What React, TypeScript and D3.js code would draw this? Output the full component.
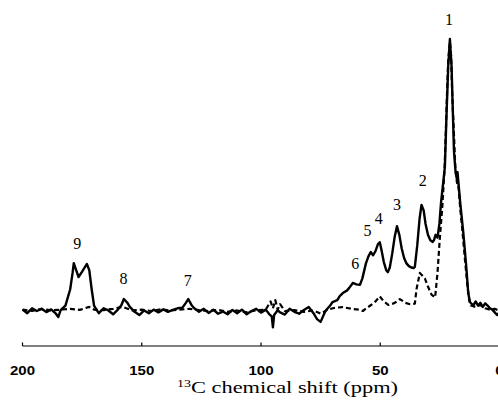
import React from "react";
import * as d3 from "d3";

// solid trace (ppm, intensity; baseline = 0, peak 1 = 100)
const solidPpm = [
  200, 198, 196, 194, 192, 190, 188, 186, 185, 184, 182, 180, 179, 178.5, 177.5, 176.5, 175, 173, 172, 171, 170, 169,
  168, 166, 164, 162, 160, 158.5, 157.5, 156, 155, 153, 151, 149, 147, 145, 143, 141, 139, 137, 135, 133, 131.5, 130.5,
  129, 128, 126, 124, 122, 120, 118, 116, 114, 112, 110, 108, 106, 104, 102, 100, 98, 96.5, 95.5, 95, 94.5, 93, 92, 90,
  88, 86, 84, 82, 80, 78, 76.5, 75, 73, 71, 70, 68, 67, 65.7, 64, 63, 61.5, 60, 58.5, 57.5, 56, 55, 54, 53, 52, 51, 50.2,
  49.5, 48.5, 47.5, 46.8, 46, 45, 44, 43, 42, 41, 40, 39, 38, 37, 36, 35.5, 34.5, 33.5, 32.7, 31.8, 31, 30, 29, 28, 27.5,
  26.8, 26, 25.2, 24.5, 23.5, 22.9, 22.3, 21.5, 20.8, 20.1, 19.1, 18.5, 18, 17.6, 17.2, 16.5, 15.2, 14, 13.1, 12.4, 11,
  10, 9, 8, 7, 6, 5, 4, 3, 2, 1, 0,
];
const solidInt = [
  0.5, -0.8, 1, 0, 0.8, -0.4, 0.6, -1, -2.2, 0.3, 2, 8, 14, 17.6, 15, 12.5, 14.5, 17.3, 15, 8, 2, 0.5,
  -0.8, 1, 0.2, -1.2, 0.5, 2.2, 4.4, 3, 1.5, -0.3, -1.5, 0.2, -0.8, 0.5, -0.5, 0.6, -0.3, 0.4, 1, 1.2, 3, 4.4,
  2, 1, -0.3, 0.8, -0.7, 0.5, -1, -0.2, -1.2, 0.4, -0.8, 0.5, -1.2, 0, 0.8, -0.6, 0.5, -1.2, -2, -6, -1.5, 0.3, -0.5, -1.3,
  0.8, -0.3, -1, 0.4, 1.5, -0.8, -3, -4, 0, 2, 3.3, 4, 5.5, 6.6, 7.5, 8.5, 10.3, 9.8, 9.6, 12, 17.5, 20, 21.7, 20.5, 22, 24.5, 25.3,
  22.5, 18, 15, 14.3, 16, 21, 27, 31.2, 28, 23, 19.5, 17.5, 16.5, 16, 15.8, 16.2, 24, 34, 39, 37, 32, 28, 26, 25.4, 26,
  28, 27, 32, 40, 48, 53, 70, 90, 100, 90, 59, 52, 49, 51, 47, 40, 29, 17, 6.6, 3.3, 2,
  3.5, 2, 3, 1.5, 2.8, 2, 1, 0.5, -0.5, -1.5, -0.5,
];

// dashed trace
const dashedPpm = [
  200, 196, 192, 188, 184, 180, 176, 172, 170, 166, 162, 158, 154, 150, 146, 142, 138, 134, 130, 126, 122, 118, 114,
  110, 106, 102, 98, 96, 95, 94, 93, 92, 90, 86, 82, 78, 75, 72, 69, 65.7, 62, 59, 57.3, 55.5, 53.7, 52, 50.2, 48.5,
  46.5, 44.7, 43, 41.8, 39.5, 37.5, 35.5, 34.8, 33.4, 32.3, 31.3, 30, 28.5, 27, 26, 25, 24, 23, 22.5, 22, 21.5, 20.8,
  20.3, 19.8, 19, 18.5, 17.8, 17.4, 17, 16.5, 15.5, 14.5, 13.5, 13, 12.5, 12, 10, 8, 6, 4, 2, 0,
];
const dashedInt = [
  0.5, 0, 0.8, 0.2, 0.5, 0.8, 0.4, 1.5, 0.5, 0.3, 0.8, 1.5, 0.2, 0.5, 0, 0.6, 0.2, 0.5, 0.8, 0.3, 0, 0.4, -0.3,
  0.2, -0.5, 0.3, 0.5, 3.5, 1, 4, 0.5, 2.5, 0, 0.3, -0.3, 0.2, -1, 0.5, 1.2, 1.4, 0.8, 0.5, 0, 1.2, 2.3, 3.5, 5.4, 3.5,
  2.2, 2.7, 3.5, 4.4, 3, 2.5, 2.7, 8, 14, 13, 12, 9, 6, 5, 14, 27, 38, 53, 66, 80, 92, 99,
  94, 79, 63, 52, 47, 47, 44, 38, 29, 19, 10, 6, 3, 2, 1.5, 2.2, 1, 0.5, 0.8, 0,
];

const peakLabels = ["1", "2", "3", "4", "5", "6", "7", "8", "9"];
const peakLabelPpm = [21.2, 32.2, 43, 50.6, 55.3, 60.5, 130.7, 157.6, 177];
const peakLabelInt = [105, 46, 37, 32, 27.6, 15.4, 9.2, 9.9, 22.8];

const tickValues = [200, 150, 100, 50, 0];

export default function App() {
  const width = 498;
  const height = 406;

  const x = d3.scaleLinear().domain([200, 0]).range([22.5, 499.5]);
  const y = d3.scaleLinear().domain([0, 100]).range([311, 39]);

  const makePath = (ppm: number[], vals: number[]) =>
    d3
      .line<number>()
      .x((d) => x(d))
      .y((_, i) => y(vals[i]))(ppm) || "";

  const axisY = 346;

  return (
    <svg width={width} height={height} style={{ display: "block", background: "#fff" }}>
      <style>{`body{margin:0}`}</style>

      {/* spectra */}
      <path
        d={makePath(dashedPpm, dashedInt)}
        fill="none"
        stroke="#000"
        strokeWidth={2.2}
        strokeDasharray="5,3"
        strokeLinejoin="round"
      />
      <path d={makePath(solidPpm, solidInt)} fill="none" stroke="#000" strokeWidth={2.4} strokeLinejoin="round" />

      {/* peak numbers */}
      {peakLabels.map((lab, i) => (
        <text
          key={lab}
          x={x(peakLabelPpm[i])}
          y={y(peakLabelInt[i])}
          textAnchor="middle"
          fontFamily="'Liberation Serif', 'Times New Roman', serif"
          fontSize={16}
          fill="#000"
        >
          {lab}
        </text>
      ))}

      {/* x axis */}
      <line x1={x(200)} x2={width} y1={axisY} y2={axisY} stroke="#000" strokeWidth={1.2} />
      {tickValues.map((t) => (
        <g key={t}>
          <line x1={x(t)} x2={x(t)} y1={axisY} y2={axisY - 3.5} stroke="#000" strokeWidth={1.2} />
          <text
            transform={`translate(${x(t)},375) scale(1.25,1)`}
            textAnchor="middle"
            fontFamily="'Liberation Sans', Arial, sans-serif"
            fontWeight="bold"
            fontSize={12}
            fill="#000"
          >
            {t}
          </text>
        </g>
      ))}

      <text
        transform="translate(287.5,393) scale(1.4,1)"
        textAnchor="middle"
        fontFamily="'Liberation Serif', 'Times New Roman', serif"
        fontSize={16}
        fill="#000"
      >
        <tspan fontSize={10} dy={-6}>
          13
        </tspan>
        <tspan dy={6}>C chemical shift (ppm)</tspan>
      </text>
    </svg>
  );
}
